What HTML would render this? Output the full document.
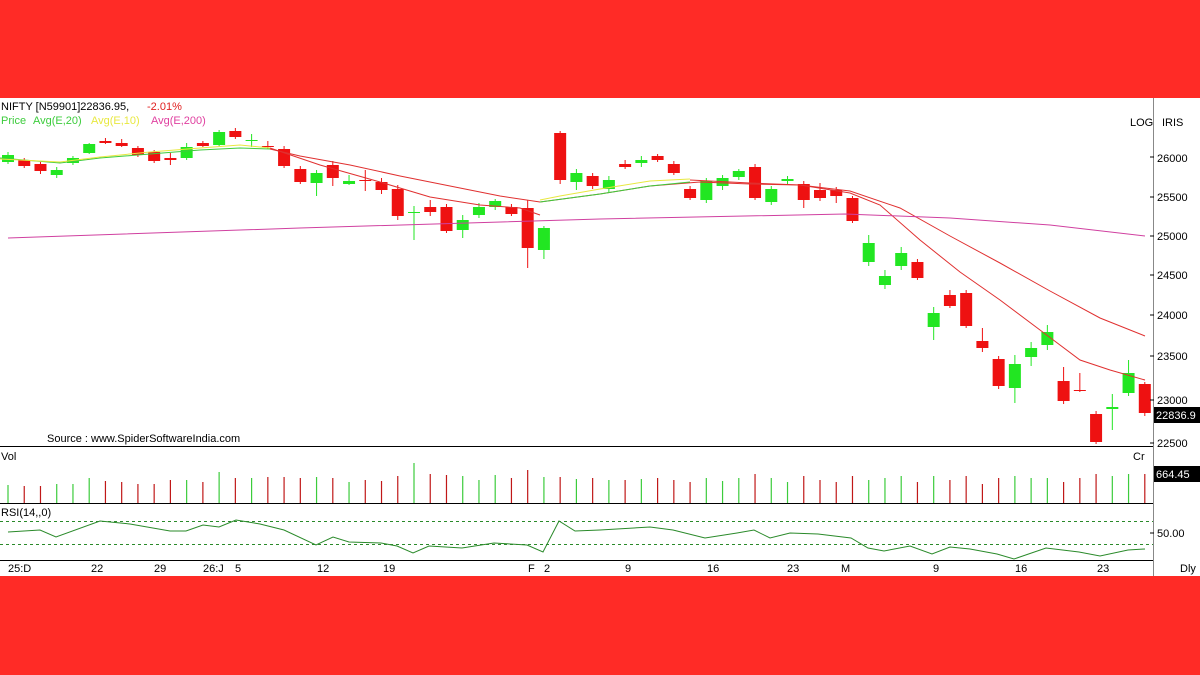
<!DOCTYPE html>
<html><head><meta charset="utf-8"><style>
body{margin:0;width:1200px;height:675px;overflow:hidden;background:#fff;font-family:"Liberation Sans",sans-serif}
svg{display:block}
</style></head><body>
<svg id="s" width="1200" height="675" xmlns="http://www.w3.org/2000/svg" font-family="Liberation Sans, sans-serif" font-size="11">
<rect x="0" y="0" width="1200" height="98" fill="#ff2b26"/>
<rect x="0" y="576" width="1200" height="99" fill="#ff2b26"/>
<line x1="1153.5" y1="98" x2="1153.5" y2="576" stroke="#888"/>
<line x1="0" y1="446.5" x2="1153" y2="446.5" stroke="#000"/>
<line x1="0" y1="503.5" x2="1153" y2="503.5" stroke="#000"/>
<line x1="0" y1="560.5" x2="1153" y2="560.5" stroke="#000"/>
<line x1="0" y1="521.5" x2="1153" y2="521.5" stroke="#2a8a2a" stroke-dasharray="3,3"/>
<line x1="0" y1="544.5" x2="1153" y2="544.5" stroke="#2a8a2a" stroke-dasharray="3,3"/>
<text x="1" y="110" fill="#000">NIFTY [N59901]22836.95,</text>
<text x="147" y="110" fill="#e02020">-2.01%</text>
<text x="1" y="124" fill="#3ccc3c">Price</text>
<text x="33" y="124" fill="#3ccc3c">Avg(E,20)</text>
<text x="91" y="124" fill="#e8e840">Avg(E,10)</text>
<text x="151" y="124" fill="#e040a0">Avg(E,200)</text>
<text x="1130" y="126" fill="#000">LOG</text>
<text x="1162" y="126" fill="#000">IRIS</text>
<text x="47" y="442" fill="#000">Source : www.SpiderSoftwareIndia.com</text>
<text x="1" y="460" fill="#000">Vol</text>
<text x="1133" y="460" fill="#000">Cr</text>
<text x="1" y="516" fill="#000">RSI(14,,0)</text>
<g id="g"></g>
<g fill="#000">
<text x="1157" y="162">26000</text><text x="1157" y="201">25500</text><text x="1157" y="240">25000</text>
<text x="1157" y="279">24500</text><text x="1157" y="319">24000</text><text x="1157" y="360">23500</text>
<text x="1157" y="404">23000</text><text x="1157" y="447">22500</text><text x="1157" y="537">50.00</text>
<text x="1180" y="572">Dly</text>
</g>
<g stroke="#000"><line x1="1150" y1="157" x2="1154" y2="157"/><line x1="1150" y1="197" x2="1154" y2="197"/><line x1="1150" y1="236" x2="1154" y2="236"/><line x1="1150" y1="275" x2="1154" y2="275"/><line x1="1150" y1="315" x2="1154" y2="315"/><line x1="1150" y1="356" x2="1154" y2="356"/><line x1="1150" y1="400" x2="1154" y2="400"/><line x1="1150" y1="443" x2="1154" y2="443"/><line x1="1150" y1="533" x2="1154" y2="533"/></g>
<rect x="1154" y="407" width="46" height="16" fill="#000"/><text x="1156" y="419" fill="#fff">22836.9</text>
<rect x="1154" y="466" width="46" height="16" fill="#000"/><text x="1156" y="478" fill="#fff">664.45</text>
<g fill="#000" font-size="11">
<text x="8" y="572">25:D</text><text x="91" y="572">22</text><text x="154" y="572">29</text><text x="203" y="572">26:J</text><text x="235" y="572">5</text>
<text x="317" y="572">12</text><text x="383" y="572">19</text><text x="528" y="572">F</text><text x="544" y="572">2</text><text x="625" y="572">9</text>
<text x="707" y="572">16</text><text x="787" y="572">23</text><text x="841" y="572">M</text><text x="933" y="572">9</text><text x="1015" y="572">16</text><text x="1097" y="572">23</text>
</g>
</svg>
<script>
var G='#22e622',R='#ee1111';
// [open_y, close_y, high_y, low_y]
var c=[[162,155,152,164],[160,166,158,168],[164,171,162,174],[175,170,167,178],[163,158,156,165],[153,144,143,154],[141,143,138,144],[143,146,139,147],[148,155,146,157],[152,161,150,163],[158,160,153,165],[158,147,143,160],[143,146,141,147],[145,132,130,146],[131,137,128,139],[140,141,134,147],[146,147,141,149],[149,166,146,168],[169,182,166,184],[183,173,170,196],[165,178,161,186],[184,181,175,185],[180,181,170,191],[182,190,178,194],[189,216,185,220],[212,213,206,240],[207,212,200,216],[207,231,204,233],[230,220,215,238],[215,207,203,218],[207,201,199,210],[207,214,204,216],[208,248,200,268],[250,228,226,259],[133,180,131,184],[182,173,169,190],[176,186,173,189],[189,180,176,192],[164,167,160,169],[163,160,156,167],[156,160,154,162],[164,173,161,175],[189,198,186,200],[200,181,178,203],[186,178,175,190],[177,171,169,180],[167,198,164,200],[202,189,186,205],[181,179,176,184],[184,200,181,208],[190,198,183,201],[190,196,187,203],[198,221,196,223],[262,243,235,266],[285,276,270,289],[266,253,247,270],[262,278,259,280],[327,313,307,340],[295,306,290,308],[293,326,290,328],[341,348,328,352],[359,386,356,389],[388,364,355,403],[357,348,342,366],[345,332,325,350],[381,401,367,404],[390,391,373,392],[414,442,411,444],[409,407,394,430],[393,373,360,396],[384,413,382,416]];
var vol=[485,486,486,484,484,478,481,482,484,484,480,480,482,472,478,478,477,477,478,477,478,482,480,481,476,463,474,475,476,480,475,478,470,477,477,479,478,480,480,479,478,480,482,478,481,478,474,478,482,476,480,482,476,480,478,476,482,476,480,476,484,478,476,478,478,482,478,474,476,474,474];
var rsi=[[8,532],[40,530],[56,537],[100,521],[130,524],[170,531],[186,531],[203,525],[219,527],[236,520],[260,524],[284,530],[316,545],[333,537],[349,542],[381,543],[397,546],[413,553],[429,546],[462,548],[494,543],[527,545],[543,552],[559,521],[575,531],[600,530],[650,527],[673,530],[705,538],[737,533],[754,530],[770,538],[790,533],[818,534],[851,538],[868,548],[884,551],[910,546],[932,554],[950,547],[970,549],[997,554],[1014,559],[1046,548],[1079,552],[1100,556],[1128,550],[1145,549]];
var h='';
function X(i){return 8+i*16.24}
c.forEach(function(d,i){var x=X(i),col=d[1]<d[0]?G:R;if(d[0]==d[1]||Math.abs(d[0]-d[1])<2)col=(i%2?G:R);
var t=Math.min(d[0],d[1]),b=Math.max(d[0],d[1]);if(b-t<1)b=t+1;
h+='<line x1="'+x+'" y1="'+d[2]+'" x2="'+x+'" y2="'+d[3]+'" stroke="'+col+'"/>';
h+='<rect x="'+(x-6)+'" y="'+t+'" width="12" height="'+(b-t)+'" fill="'+col+'"/>';
h+='<line x1="'+x+'" y1="503" x2="'+x+'" y2="'+vol[i]+'" stroke="'+(col==G?'#3ccc3c':'#c01818')+'" stroke-width="1.2"/>';});
function pl(p,col){return '<polyline fill="none" stroke="'+col+'" stroke-width="1" points="'+p+'"/>'}
h+=pl('0,158 60,163 100,158 150,154 200,150 240,148 270,149','#3ccc3c');
h+=pl('0,159 60,162 100,157 150,152 200,148 240,145 270,148','#e8e840');
h+=pl('270,149 300,156 350,165 400,176 450,186 500,196 540,202 600,194 650,186 700,182 750,184 800,185 850,191 900,208 950,236 1000,263 1050,291 1100,318 1145,336','#e03030');
h+=pl('270,148 320,165 380,182 430,197 480,205 520,208 540,215','#e03030');
h+=pl('540,200 560,196 600,189 650,181 690,179','#e8e840');
h+=pl('540,202 600,194 650,186 690,182','#3ccc3c');
h+=pl('690,180 750,183 800,185 850,193 880,205 920,240 960,272 1000,300 1040,330 1080,360 1110,370 1145,380','#e03030');
h+=pl('8,238 300,228 600,219 845,214 950,218 1050,225 1145,236','#d040a0');
h+=pl(rsi.map(function(p){return p.join(',')}).join(' '),'#2a8a2a');
document.getElementById('g').innerHTML=h;
</script>
</body></html>
